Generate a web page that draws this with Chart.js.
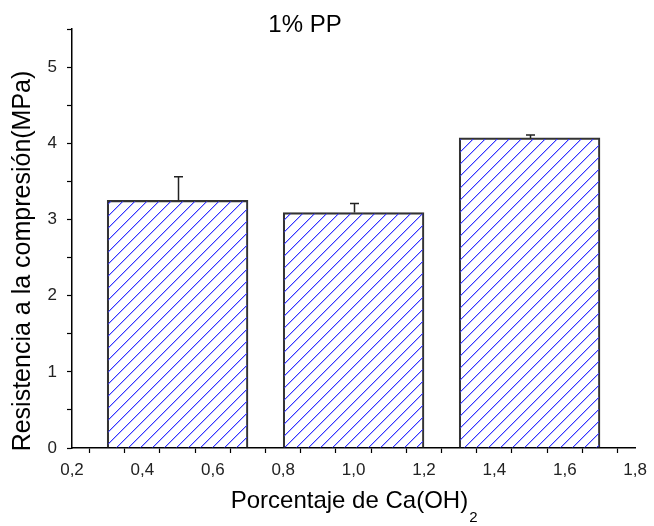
<!DOCTYPE html>
<html>
<head>
<meta charset="utf-8">
<script src="https://cdn.jsdelivr.net/npm/chart.js@4.4.1/dist/chart.umd.min.js"></script>
<style>
  body { margin: 0; background: #fff; }
  #wrap { width: 654px; height: 526px; }
</style>
</head>
<body>
<div id="wrap"><canvas id="myChart"></canvas></div>
<script>
// data
let caOH = [0.5, 1.0, 1.5];
let strength = [3.25, 3.09, 4.07];
let errUp = [0.31, 0.12, 0.04];
let xTicks = [0.2, 0.4, 0.6, 0.8, 1.0, 1.2, 1.4, 1.6, 1.8];
let yTicks = [0, 1, 2, 3, 4, 5];
let barWidth = 0.4; // in x units

const FONT = "'Liberation Sans', Arial, sans-serif";

// diagonal hatch fill, drawn pixel by pixel so it stays crisp
function makeHatch() {
  let c = document.createElement("canvas");
  c.width = 12;
  c.height = 12;
  let g = c.getContext("2d");
  g.fillStyle = "#3434ff";
  for (let i = 0; i < 12; i++) {
    g.fillRect(i, 11 - i, 1, 1);
  }
  g.fillStyle = "rgba(52,52,255,0.35)";
  for (let i = 0; i < 12; i++) {
    g.fillRect(i, (12 - i) % 12, 1, 1);
  }
  return g.createPattern(c, "repeat");
}

function isOn(list, v) {
  return list.some(t => Math.abs(t - v) < 1e-6);
}

// error bars (upper only) + texts with subscript
const extras = {
  id: "extras",
  afterDatasetsDraw(chart) {
    let ctx = chart.ctx;
    let xs = chart.scales.x, ys = chart.scales.y;
    ctx.save();
    ctx.strokeStyle = "#222";
    ctx.lineWidth = 1.5;
    caOH.forEach((x, i) => {
      let px = Math.round(xs.getPixelForValue(x)) + 0.5;
      let y0 = ys.getPixelForValue(strength[i]);
      let y1 = ys.getPixelForValue(strength[i] + errUp[i]);
      ctx.beginPath();
      ctx.moveTo(px, y0);
      ctx.lineTo(px, y1);
      ctx.moveTo(px - 4.5, y1);
      ctx.lineTo(px + 4.5, y1);
      ctx.stroke();
    });
    ctx.restore();
  },
  afterDraw(chart) {
    let ctx = chart.ctx;
    let area = chart.chartArea;
    ctx.save();
    ctx.fillStyle = "#000";
    ctx.textBaseline = "alphabetic";
    // title
    ctx.font = "24px " + FONT;
    ctx.textAlign = "center";
    ctx.fillText("1% PP", 305, 32);
    // y axis title
    ctx.save();
    ctx.translate(30, 261);
    ctx.rotate(-Math.PI / 2);
    ctx.font = "25px " + FONT;
    ctx.fillText("Resistencia a la compresión(MPa)", 0, 0);
    ctx.restore();
    // x axis title
    let main = "Porcentaje de Ca(OH)";
    ctx.font = "24px " + FONT;
    let w1 = ctx.measureText(main).width;
    ctx.font = "15px " + FONT;
    let w2 = ctx.measureText("2").width;
    let cx = (area.left + area.right) / 2;
    let start = cx - (w1 + w2) / 2;
    ctx.textAlign = "left";
    ctx.font = "24px " + FONT;
    ctx.fillText(main, start, 508);
    ctx.font = "15px " + FONT;
    ctx.fillText("2", start + w1 + 1, 522);
    ctx.restore();
  }
};

let ctx = document.getElementById("myChart").getContext("2d");
let myChart = new Chart(ctx, {
  type: "bar",
  data: {
    datasets: [{
      data: caOH.map((x, i) => ({ x: x, y: strength[i] })),
      backgroundColor: makeHatch(),
      borderColor: "#333",
      borderWidth: 1.5,
      barThickness: c => {
        let s = c.chart.scales.x;
        return s ? s.getPixelForValue(barWidth) - s.getPixelForValue(0) : 100;
      }
    }]
  },
  options: {
    responsive: true,
    maintainAspectRatio: false,
    animation: false,
    layout: { padding: { top: 29, right: 15, left: 0, bottom: 0 } },
    plugins: {
      legend: { display: false },
      tooltip: { enabled: false }
    },
    scales: {
      x: {
        type: "linear",
        min: 0.2,
        max: 1.8,
        offset: false,
        afterFit(scale) { scale.height = 78; },
        afterBuildTicks(scale) {
          let t = [];
          for (let k = 2; k <= 18; k++) t.push({ value: k / 10 });
          scale.ticks = t;
        },
        grid: {
          drawOnChartArea: false,
          drawTicks: true,
          tickLength: 5,
          tickColor: "#000",
          tickWidth: 1.2
        },
        border: { color: "#000", width: 1.5 },
        ticks: {
          color: "#222",
          font: { family: FONT, size: 17 },
          padding: 7,
          maxRotation: 0,
          autoSkip: false,
          callback: v => isOn(xTicks, v) ? v.toFixed(1).replace(".", ",") : ""
        }
      },
      y: {
        min: 0,
        max: 5.5,
        afterFit(scale) { scale.width = 72; },
        afterBuildTicks(scale) {
          let t = [];
          for (let k = 0; k <= 11; k++) t.push({ value: k / 2 });
          scale.ticks = t;
        },
        grid: {
          drawOnChartArea: false,
          drawTicks: true,
          tickLength: 5,
          tickColor: "#000",
          tickWidth: 1.2
        },
        border: { color: "#000", width: 1.5 },
        ticks: {
          color: "#222",
          font: { family: FONT, size: 17 },
          padding: 10,
          autoSkip: false,
          callback: v => isOn(yTicks, v) ? String(v) : ""
        }
      }
    }
  },
  plugins: [extras]
});
</script>
</body>
</html>
